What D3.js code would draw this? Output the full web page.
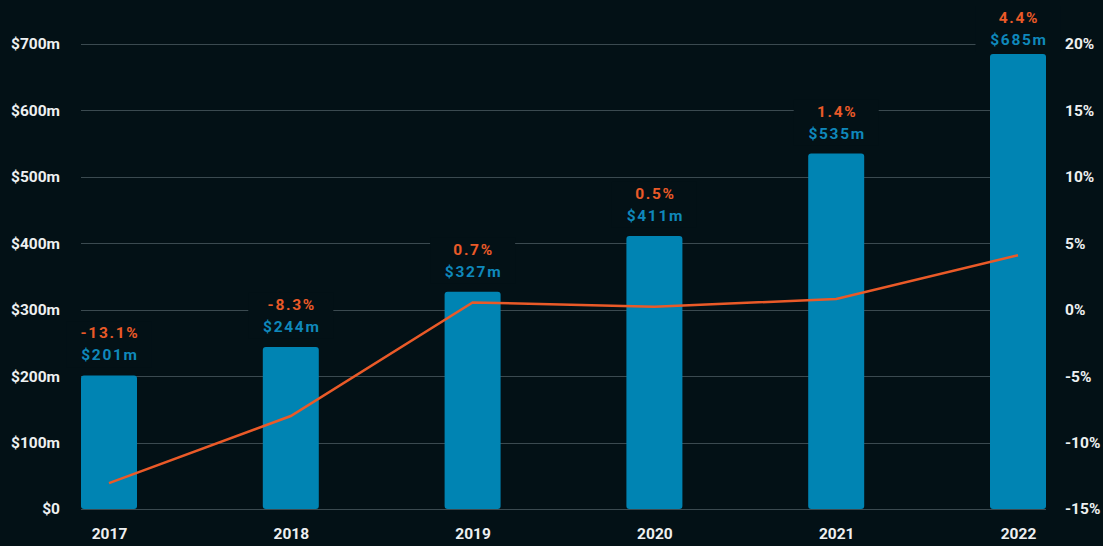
<!DOCTYPE html>
<html>
<head>
<meta charset="utf-8">
<script src="https://cdn.jsdelivr.net/npm/d3@7"></script>
<style>
  html, body { margin: 0; padding: 0; background: #031116; }
  svg { display: block; font-family: Roboto, "Noto Sans", sans-serif; }
</style>
</head>
<body>
<div id="chart"></div>
<script>
// data
var years = ["2017", "2018", "2019", "2020", "2021", "2022"];
var revenue = [201, 244, 327, 411, 535, 685]; // $m
var growthLabels = ["-13.1%", "-8.3%", "0.7%", "0.5%", "1.4%", "4.4%"];
var growthLine = [-13.05, -8.0, 0.55, 0.23, 0.8, 4.1]; // % as drawn by the line
var leftTicks = [0, 100, 200, 300, 400, 500, 600, 700];
var rightTicks = [-15, -10, -5, 0, 5, 10, 15, 20];

var width = 1103, height = 546;
var barW = 56;

var svg = d3.select("#chart").append("svg")
  .attr("width", width)
  .attr("height", height);

svg.append("rect").attr("width", width).attr("height", height).attr("fill", "#031116");

var x = d3.scalePoint().domain(years).range([109, 1018]);
var y0 = d3.scaleLinear().domain([0, 700]).range([509, 44]);
var y1 = d3.scaleLinear().domain([-15, 20]).range([509, 44]);

// gridlines
svg.append("g")
  .selectAll("line")
  .data(leftTicks)
  .enter()
  .append("line")
  .attr("x1", x(years[0]) - barW / 2)
  .attr("x2", x(years[years.length - 1]) + barW / 2)
  .attr("y1", function (d) { return Math.round(y0(d)) + 0.5; })
  .attr("y2", function (d) { return Math.round(y0(d)) + 0.5; })
  .style("stroke", "#3b4a50")
  .style("stroke-width", 1);

function styleAxisText(g) {
  g.select(".domain").remove();
  g.selectAll("text")
    .style("fill", "#eef0f1")
    .style("font-size", "15.5px")
    .style("font-weight", "700")
    .style("font-family", "Roboto, sans-serif");
}

// left axis
var yAxisLeft = d3.axisLeft(y0).tickValues(leftTicks).tickSize(0).tickPadding(0)
  .tickFormat(function (d) { return d === 0 ? "$0" : "$" + d + "m"; });
svg.append("g").attr("transform", "translate(60,0)").call(yAxisLeft).call(styleAxisText);

// right axis
var yAxisRight = d3.axisRight(y1).tickValues(rightTicks).tickSize(0).tickPadding(0)
  .tickFormat(function (d) { return d + "%"; });
svg.append("g").attr("transform", "translate(1065,0)").call(yAxisRight).call(styleAxisText);

// x axis labels
var xAxis = d3.axisBottom(x).tickSize(0).tickPadding(0);
svg.append("g").attr("transform", "translate(0,528)").call(xAxis).call(styleAxisText);

var rows = years.map(function (d, i) {
  return { year: d, value: revenue[i], label: growthLabels[i], g: growthLine[i] };
});

// label backgrounds (cut gridlines)
function pctY(d) { return Math.max(y0(d.value) - 42, 18); }

svg.append("g")
  .selectAll("rect")
  .data(rows)
  .enter()
  .append("rect")
  .attr("x", function (d) { return x(d.year) - 42.5; })
  .attr("y", function (d) { return pctY(d) - 12; })
  .attr("width", 85)
  .attr("height", 46)
  .attr("fill", "#031116");

// bars
svg.append("g")
  .selectAll("path")
  .data(rows)
  .enter()
  .append("path")
  .attr("d", function (d) {
    var x0 = x(d.year) - barW / 2, top = y0(d.value), bot = y0(0), r = 3;
    return "M" + x0 + "," + (bot - r) +
      "V" + (top + r) + "Q" + x0 + "," + top + " " + (x0 + r) + "," + top +
      "H" + (x0 + barW - r) + "Q" + (x0 + barW) + "," + top + " " + (x0 + barW) + "," + (top + r) +
      "V" + (bot - r) + "Q" + (x0 + barW) + "," + bot + " " + (x0 + barW - r) + "," + bot +
      "H" + (x0 + r) + "Q" + x0 + "," + bot + " " + x0 + "," + (bot - r) + "Z";
  })
  .style("fill", "#0084b3");

// growth line
svg.append("path")
  .datum(rows)
  .attr("d", d3.line()
    .x(function (d) { return x(d.year); })
    .y(function (d) { return y1(d.g); }))
  .style("fill", "none")
  .style("stroke", "#ea5a28")
  .style("stroke-width", 2.5);

// labels
svg.append("g")
  .selectAll("text")
  .data(rows)
  .enter()
  .append("text")
  .attr("x", function (d) { return x(d.year) + 1; })
  .attr("y", function (d) { return pctY(d); })
  .attr("text-anchor", "middle")
  .attr("dominant-baseline", "central")
  .style("fill", "#ea5a28")
  .style("font-size", "15.5px")
  .style("font-weight", "700")
  .style("letter-spacing", "1.7px")
  .text(function (d) { return d.label; });

svg.append("g")
  .selectAll("text")
  .data(rows)
  .enter()
  .append("text")
  .attr("x", function (d) { return x(d.year) + 1; })
  .attr("y", function (d) { return pctY(d) + 22; })
  .attr("text-anchor", "middle")
  .attr("dominant-baseline", "central")
  .style("fill", "#0f88bb")
  .style("font-size", "15.5px")
  .style("font-weight", "700")
  .style("letter-spacing", "1.7px")
  .text(function (d) { return "$" + d.value + "m"; });
</script>
</body>
</html>
